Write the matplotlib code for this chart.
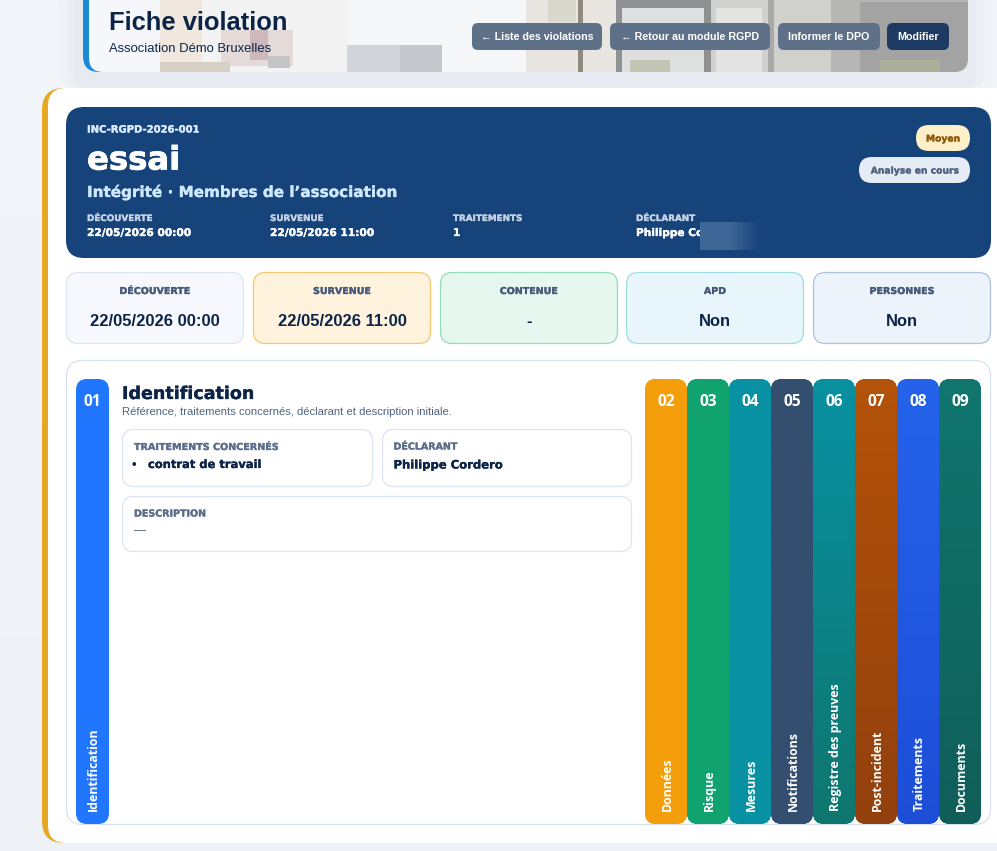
import matplotlib
matplotlib.use("Agg")
import matplotlib.pyplot as plt
import matplotlib.patheffects as pe
from matplotlib.colors import LinearSegmentedColormap
from matplotlib.patches import FancyBboxPatch, Rectangle
import numpy as np

plt.rcParams['font.family'] = ['Liberation Sans', 'DejaVu Sans']

W, H = 997, 851

# contenu de la page
titre = "Fiche violation"
sous_titre = "Association Démo Bruxelles"
boutons = ["← Liste des violations", "← Retour au module RGPD", "Informer le DPO", "Modifier"]
ref = "INC-RGPD-2026-001"
nom = "essai"
categorie = "Intégrité · Membres de l’association"
hero_labels = ["DÉCOUVERTE", "SURVENUE", "TRAITEMENTS", "DÉCLARANT"]
hero_valeurs = ["22/05/2026 00:00", "22/05/2026 11:00", "1", "Philippe Cordero"]
stat_labels = ["DÉCOUVERTE", "SURVENUE", "CONTENUE", "APD", "PERSONNES"]
stat_valeurs = ["22/05/2026 00:00", "22/05/2026 11:00", "-", "Non", "Non"]
onglet_num = ["02", "03", "04", "05", "06", "07", "08", "09"]
onglet_noms = ["Données", "Risque", "Mesures", "Notifications", "Registre des preuves",
               "Post-incident", "Traitements", "Documents"]

# styles
bouton_x = [(472, 602), (610, 770), (778, 880), (887, 949)]
bouton_couleurs = ["#5f7189", "#5f7189", "#5f7189", "#1d3a63"]
hero_x = [87, 270, 453, 636]
stat_x = [(66, 244), (253, 431), (440, 618), (626, 804), (813, 991)]
stat_fond = ["#f6f8fd", "#fff3dd", "#e6f7ef", "#e8f6fb", "#ecf3fb"]
stat_bord = ["#dde5f0", "#f6c86f", "#93dcba", "#9cdde3", "#afc3dd"]
onglet_x = [645, 687, 729, 771, 813, 855, 897, 939]
onglet_haut = ["#f59e0b", "#10a36f", "#0891a2", "#334e6e", "#0891a2", "#b45309", "#2563eb", "#0f766e"]
onglet_bas = ["#f59e0b", "#10a36f", "#0891a2", "#334e6e", "#0f766e", "#92400e", "#1d4ed8", "#115e59"]
MARINE = "#0b2447"
GRIS = "#4f6480"
OPEN = ["Open Sans", "DejaVu Sans"]


def txt_px(px):
    return px * 0.72


def boite(ax, x0, y0, x1, y1, r, fc, ec="none", lw=1, z=1):
    p = FancyBboxPatch((x0 + r, y0 + r), x1 - x0 - 2 * r, y1 - y0 - 2 * r,
                       boxstyle=f"round,pad={r},rounding_size={r}",
                       fc=fc, ec=ec, lw=lw, zorder=z)
    ax.add_patch(p)
    return p


def degrade(ax, x0, y0, x1, y1, c0, c1, clip, vertical=True, z=2):
    cmap = LinearSegmentedColormap.from_list("d", [c0, c1])
    g = np.linspace(0, 1, 256).reshape(-1, 1) if vertical else np.linspace(0, 1, 256).reshape(1, -1)
    im = ax.imshow(g, extent=(x0, x1, y1, y0), cmap=cmap, aspect="auto", zorder=z)
    if clip is not None:
        im.set_clip_path(clip)
    return im


def gras(ax, x, y, s, px, c, epais=0.2, **kw):
    # texte tres gras facon Arial Black : DejaVu Bold est le plus proche
    return ax.text(x, y, s, fontsize=txt_px(px), color=c, fontweight="bold", va="center", zorder=8,
                   family=["DejaVu Sans"],
                   path_effects=[pe.withStroke(linewidth=epais, foreground=c)], **kw)


fig = plt.figure(figsize=(W / 100, H / 100), dpi=100)
ax = fig.add_axes([0, 0, 1, 1])
ax.set_xlim(0, W)
ax.set_ylim(H, 0)
ax.axis("off")

# fond de page
degrade(ax, 0, 0, W, H, "#f2f5fa", "#eef1f6", None, z=0)

# ombre du bandeau
for marge, c in [(24, "#eff2f7"), (16, "#ebeff4"), (8, "#e7ebf1")]:
    boite(ax, 83 - marge, -20, 968 + marge, 88, 14, c, z=0.5)

# bandeau du haut
boite(ax, 83, -20, 968, 72, 16, "#1c8ad6", z=1)
clip_b = boite(ax, 89, -20, 968, 72, 14, "#f5f7fa", z=1.2)
# photo de fond, grossierement
photo = [(160, 0, 42, 72, "#f0e8df"), (202, 0, 145, 72, "#f3f3f4"),
         (221, 30, 72, 36, "#e4dbd8"), (250, 30, 18, 30, "#cdb9bb"), (268, 56, 22, 12, "#c4c5c6"),
         (160, 62, 70, 10, "#d6cfc4"),
         (347, 0, 179, 72, "#f6f7f8"), (347, 45, 95, 27, "#d2d5d9"), (400, 45, 42, 27, "#c5c9cd"),
         (526, 0, 90, 72, "#e9e6e1"), (578, 0, 5, 72, "#8f8a7e"), (548, 0, 28, 22, "#d8d8cc"),
         (616, 0, 95, 72, "#8f9193"), (622, 8, 82, 64, "#dee0e0"),
         (711, 0, 120, 72, "#d0d0cd"), (716, 8, 46, 64, "#e3e3e1"), (768, 0, 6, 72, "#a9a9a8"),
         (831, 0, 137, 72, "#b6b6b5"), (860, 2, 108, 70, "#a3a3a3"),
         (880, 60, 60, 12, "#acb09a"), (630, 60, 40, 12, "#c2c5b4")]
for x, y, w, h, c in photo:
    r = Rectangle((x, y), w, h, fc=c, ec="none", zorder=1.4)
    ax.add_patch(r)
    r.set_clip_path(clip_b)

ax.text(109, 23.5, titre, fontsize=txt_px(25.5), fontweight="bold", color=MARINE, va="center", zorder=8)
ax.text(109, 48.5, sous_titre, fontsize=txt_px(13), color=MARINE, va="center", zorder=8)

for (x0, x1), c, s in zip(bouton_x, bouton_couleurs, boutons):
    boite(ax, x0, 23, x1, 50, 6, c, z=5)
    ax.text((x0 + x1) / 2, 37, s, fontsize=txt_px(10.6), fontweight="bold", color="white",
            ha="center", va="center", zorder=8)

# carte principale
boite(ax, 42, 88, 1040, 843, 22, "#e5a823", z=2)
boite(ax, 48, 88, 1040, 843, 18, "white", z=2.1)

# hero
boite(ax, 66, 107, 991, 258, 18, "#17437b", z=3)
gras(ax, 87, 129.5, ref, 10, "#dcebff")
gras(ax, 87, 161, nom, 32.3, "white", epais=0.6)
gras(ax, 87, 192, categorie, 15.2, "#cfe8ff")
for x, lab, val in zip(hero_x, hero_labels, hero_valeurs):
    gras(ax, x, 218.5, lab, 8.8, "#c4d2e6")
    gras(ax, x, 233, val, 10.6, "white")
boite(ax, 916, 125, 970, 151, 13, "#fdefc8", z=4)
gras(ax, 943, 139, "Moyen", 9.2, "#8f5a0a", ha="center")
boite(ax, 859, 157, 970, 183, 13, "#e6ecf5", z=4)
gras(ax, 914.5, 171, "Analyse en cours", 9.2, "#4f6480", ha="center")
# zone floutee, cache la fin du nom
cm_flou = LinearSegmentedColormap.from_list("f", ["#3f6796", "#3f6796", "#17437b"])
ax.imshow(np.linspace(0, 1, 64).reshape(1, -1), extent=(700, 760, 250, 222), cmap=cm_flou,
          aspect="auto", zorder=9)

# cartes statistiques
for (x0, x1), fc, ec, lab, val in zip(stat_x, stat_fond, stat_bord, stat_labels, stat_valeurs):
    boite(ax, x0 + .5, 272.5, x1 - .5, 343.5, 12, fc, ec, lw=0.9, z=3)
    gras(ax, (x0 + x1) / 2, 291.5, lab, 9.5, "#46597a", ha="center")
    ax.text((x0 + x1) / 2, 321.5, val, fontsize=txt_px(16.5), fontweight="bold", color=MARINE,
            ha="center", va="center", zorder=8)

# panneau des onglets
boite(ax, 66.5, 360.5, 990.5, 824.5, 16, "white", "#d8e2ee", lw=0.9, z=3)

boite(ax, 76, 379, 109, 824, 11, "#2176ff", z=4)
ax.text(92.5, 401.5, "01", fontsize=txt_px(15.5), fontweight="bold", color="white", ha="center", va="center",
        family=OPEN, zorder=8)
ax.text(93.5, 811, "Identification", fontsize=txt_px(12.45), fontweight="bold", color="white", rotation=90,
        ha="center", va="bottom", family=OPEN, zorder=8)

for x, n, lab, c0, c1 in zip(onglet_x, onglet_num, onglet_noms, onglet_haut, onglet_bas):
    clip = boite(ax, x, 379, x + 42, 824, 11, c0, z=4)
    degrade(ax, x, 379, x + 42, 824, c0, c1, clip, z=4.1)
    ax.text(x + 21, 401.5, n, fontsize=txt_px(15.5), fontweight="bold", color="white", ha="center", va="center",
            family=OPEN, zorder=8)
    ax.text(x + 22, 811, lab, fontsize=txt_px(12.45), fontweight="bold", color="white", rotation=90,
            ha="center", va="bottom", family=OPEN, zorder=8)

# contenu Identification
gras(ax, 122, 394, "Identification", 17.5, MARINE)
ax.text(122, 412, "Référence, traitements concernés, déclarant et description initiale.",
        fontsize=txt_px(11.25), color=GRIS, va="center", zorder=8)
boite(ax, 122.5, 429.5, 372.5, 486.5, 11, "white", "#dde5f0", lw=0.9, z=4)
boite(ax, 382.5, 429.5, 631.5, 486.5, 11, "white", "#dde5f0", lw=0.9, z=4)
boite(ax, 122.5, 496.5, 631.5, 551.5, 11, "white", "#dde5f0", lw=0.9, z=4)
gras(ax, 134, 447, "TRAITEMENTS CONCERNÉS", 9.6, "#5b6f8c")
ax.text(134, 465, "•", fontsize=txt_px(13), fontweight="bold", color=MARINE, va="center", ha="center", zorder=8)
gras(ax, 148, 465, "contrat de travail", 11.5, MARINE)
gras(ax, 393.5, 447, "DÉCLARANT", 9.5, "#5b6f8c")
gras(ax, 393.5, 465, "Philippe Cordero", 11.6, MARINE)
gras(ax, 134, 514, "DESCRIPTION", 9.5, "#5b6f8c")
ax.text(134, 531, "—", fontsize=txt_px(12), color=GRIS, va="center", zorder=8)

ax.set_xlim(0, W)
ax.set_ylim(H, 0)
fig.savefig("out.png", dpi=100)
